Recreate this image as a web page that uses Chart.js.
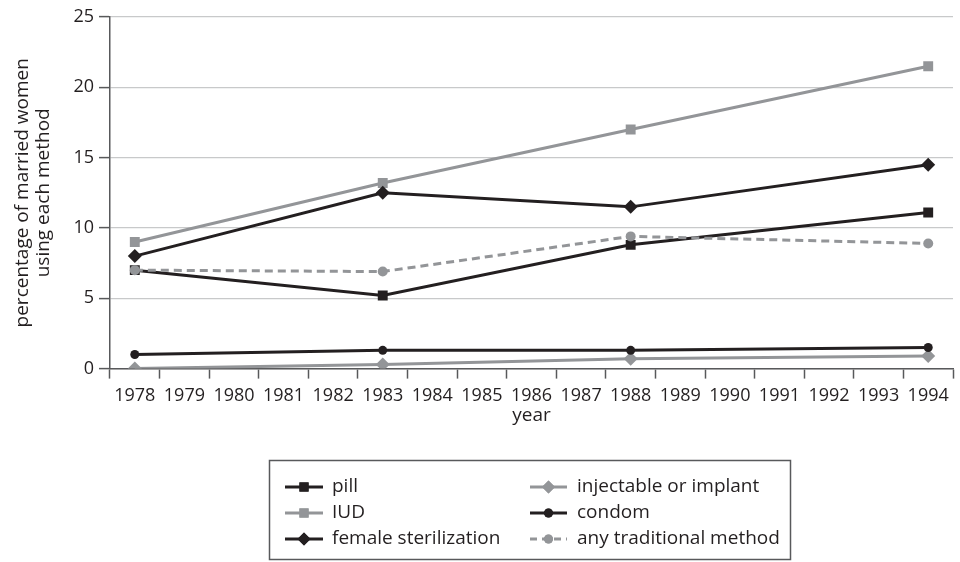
<!DOCTYPE html>
<html>
<head>
<meta charset="utf-8">
<script src="https://cdn.jsdelivr.net/npm/chart.js@4/dist/chart.umd.min.js"></script>
<style>
  html, body { margin: 0; padding: 0; background: #ffffff; }
  #wrap { width: 960px; height: 562px; position: relative; }
</style>
</head>
<body>
<div id="wrap"><canvas id="c" width="960" height="562"></canvas></div>
<script>
// ---- data ----
const yearLabels = ['1978','1979','1980','1981','1982','1983','1984','1985','1986','1987','1988','1989','1990','1991','1992','1993','1994'];
const surveyYears = ['1978','1983','1988','1994'];
const pill = [7.0, 5.2, 8.8, 11.1];
const iud = [9.0, 13.2, 17.0, 21.5];
const femaleSterilization = [8.0, 12.5, 11.5, 14.5];
const injectableOrImplant = [0.0, 0.3, 0.7, 0.9];
const condom = [1.0, 1.3, 1.3, 1.5];
const anyTraditional = [7.0, 6.9, 9.4, 8.9];
const seriesNames = ['pill','IUD','female sterilization','injectable or implant','condom','any traditional method'];
const yTicks = [0, 5, 10, 15, 20, 25];

const BLACK = '#231f20';
const GRAY = '#939598';
const AXIS = '#58595b';
const FONT = '"Open Sans", Lato, sans-serif';

function pts(arr) { return surveyYears.map((y, i) => ({ x: y, y: arr[i] })); }

function ds(label, arr, color, style, radius, order, dash) {
  return {
    label, data: pts(arr), borderColor: color, backgroundColor: color,
    borderWidth: 3, pointStyle: style, pointRadius: radius, pointHoverRadius: radius,
    pointBorderWidth: 0, pointBackgroundColor: color, borderDash: dash || [],
    tension: 0, spanGaps: true, order
  };
}

const datasets = [
  ds(seriesNames[0], pill, BLACK, 'rect', 7, 2),
  ds(seriesNames[1], iud, GRAY, 'rect', 7, 5),
  ds(seriesNames[2], femaleSterilization, BLACK, 'rectRot', 7, 1),
  ds(seriesNames[3], injectableOrImplant, GRAY, 'rectRot', 7, 4),
  ds(seriesNames[4], condom, BLACK, 'circle', 4.5, 3),
  ds(seriesNames[5], anyTraditional, GRAY, 'circle', 5, 0, [8, 5])
];

const boxLegend = {
  id: 'boxLegend',
  afterDraw(chart) {
    const ctx = chart.ctx;
    const box = { x: 269.5, y: 460.5, w: 521, h: 99 };
    ctx.save();
    ctx.strokeStyle = AXIS;
    ctx.lineWidth = 1.5;
    ctx.strokeRect(box.x, box.y, box.w, box.h);
    const rows = [487, 513, 539];
    const cols = [{ l0: 285, l1: 323, tx: 332 }, { l0: 530, l1: 567, tx: 577 }];
    chart.data.datasets.forEach((d, i) => {
      const col = cols[Math.floor(i / 3)];
      const y = rows[i % 3];
      ctx.strokeStyle = d.borderColor;
      ctx.lineWidth = 3;
      ctx.setLineDash(d.borderDash && d.borderDash.length ? [7, 5] : []);
      ctx.beginPath();
      ctx.moveTo(col.l0, y);
      ctx.lineTo(col.l1, y);
      ctx.stroke();
      ctx.setLineDash([]);
      ctx.fillStyle = d.backgroundColor;
      Chart.helpers.drawPoint(ctx, { pointStyle: d.pointStyle, radius: d.pointStyle === 'circle' ? 4.5 : 6.5, borderWidth: 0 }, (col.l0 + col.l1) / 2, y);
      ctx.fill();
      ctx.fillStyle = BLACK;
      ctx.font = '19px ' + FONT;
      ctx.textBaseline = 'middle';
      ctx.textAlign = 'left';
      ctx.fillText(d.label, col.tx, y);
    });
    ctx.restore();
  }
};

new Chart(document.getElementById('c'), {
  type: 'line',
  data: { labels: yearLabels, datasets },
  options: {
    responsive: false,
    animation: false,
    events: [],
    layout: { padding: { top: 17, right: 0, bottom: 135, left: 0 } },
    plugins: { legend: { display: false }, tooltip: { enabled: false } },
    scales: {
      x: {
        type: 'category',
        offset: true,
        grid: { display: true, drawOnChartArea: false, offset: true, tickLength: 10, tickColor: AXIS, tickWidth: 1.5 },
        border: { display: true, color: AXIS, width: 1.5 },
        ticks: { autoSkip: false, maxRotation: 0, color: BLACK, font: { family: FONT, size: 18 }, padding: 6 },
        title: { display: true, text: 'year', color: BLACK, font: { family: FONT, size: 19 }, padding: { top: -8, bottom: 0 } }
      },
      y: {
        min: 0, max: 25,
        afterFit(scale) { scale.width = 110; },
        afterBuildTicks(scale) { scale.ticks = yTicks.map(v => ({ value: v })); },
        grid: { color: '#c8c9ca', lineWidth: 1.2, tickLength: 11, tickColor: AXIS, tickWidth: 1.5 },
        border: { display: true, color: AXIS, width: 1.5 },
        ticks: { color: BLACK, font: { family: FONT, size: 18 }, padding: 5 },
        title: { display: true, text: ['percentage of married women', 'using each method'], color: BLACK, font: { family: FONT, size: 19, lineHeight: 1.1 }, padding: { top: 12, bottom: 0 } }
      }
    }
  },
  plugins: [boxLegend]
});
</script>
</body>
</html>
